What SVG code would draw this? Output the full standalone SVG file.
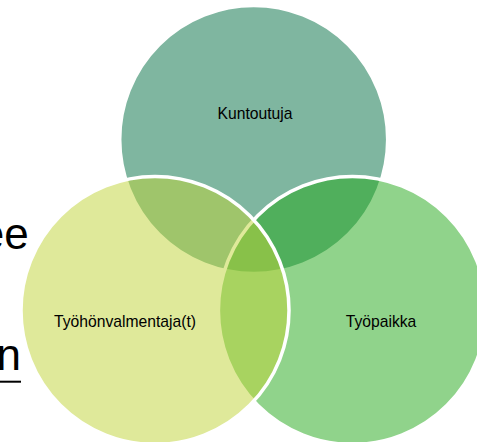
<svg xmlns="http://www.w3.org/2000/svg" width="477" height="442" viewBox="0 0 477 442">
  <style>
    .circle { stroke: #ffffff; stroke-width: 3.5; fill-opacity: 0.5; }
    .label { font-family: "Liberation Sans", Arial, sans-serif; font-size: 15.7px; fill: #000000; text-anchor: middle; }
    .bg { font-family: "Liberation Sans", Arial, sans-serif; font-size: 44px; fill: #000000; text-anchor: end; }
  </style>
  <rect x="0" y="0" width="477" height="442" fill="#ffffff"/>
  <g id="background-text">
    <text class="bg" x="28.8" y="249">ee</text>
    <text class="bg" x="21" y="370">n</text>
    <rect x="0" y="380.7" width="21" height="2" fill="#000000"/>
  </g>
  <g id="node-kuntoutuja">
    <circle cx="253.7" cy="139.5" r="134" fill="#7FB6A0" stroke="#ffffff" stroke-width="3.5"/>
    <text class="label" x="255" y="119">Kuntoutuja</text>
  </g>
  <g id="node-tyopaikka">
    <circle class="circle" cx="352.4" cy="310.5" r="134" fill="#21A717"/>
    <text class="label" x="381" y="326.5">Työpaikka</text>
  </g>
  <g id="node-tyohonvalmentaja">
    <circle class="circle" cx="155" cy="310.5" r="134" fill="#BFD335"/>
    <text class="label" x="125" y="326.5">Työhönvalmentaja(t)</text>
  </g>
</svg>
